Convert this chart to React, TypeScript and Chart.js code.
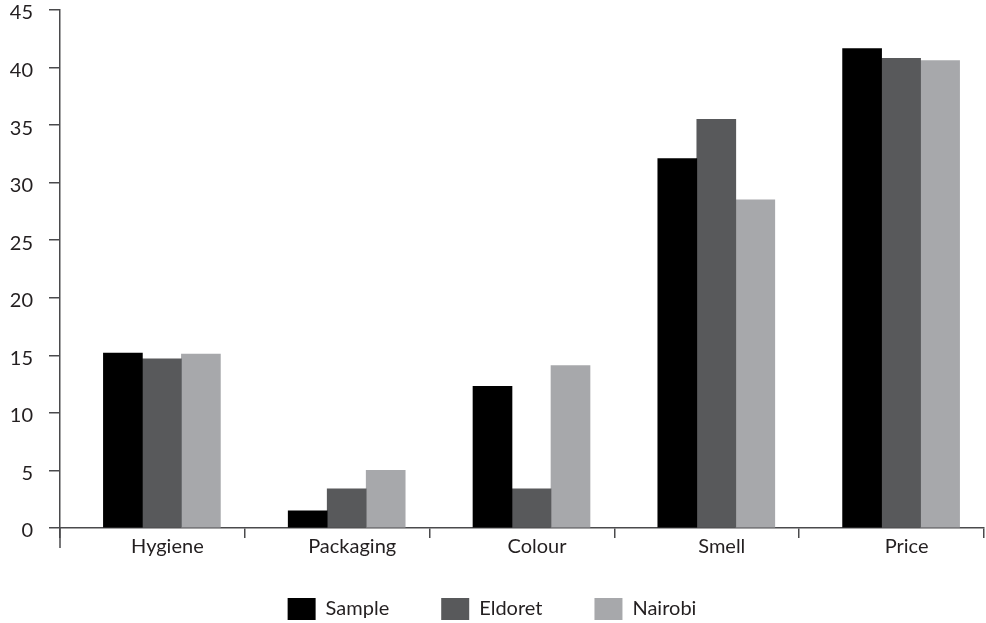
import { useEffect, useRef } from "react";
import { Chart, registerables } from "chart.js";

Chart.register(...registerables);

const categories = ["Hygiene", "Packaging", "Colour", "Smell", "Price"];
const seriesNames = ["Sample", "Eldoret", "Nairobi"];
const sampleValues = [15.2, 1.5, 12.3, 32.1, 41.65];
const eldoretValues = [14.7, 3.4, 3.4, 35.5, 40.8];
const nairobiValues = [15.1, 5.0, 14.1, 28.5, 40.6];
const yMin = 0;
const yMax = 45;
const yStep = 5;

const seriesColors = ["#000000", "#58595b", "#a7a8ab"];
const AXIS = "#4a4a4c";
const TEXT = "#231f20";
const FONT = "Lato, 'Open Sans', sans-serif";

const axisExtend = {
  id: "axisExtend",
  afterDraw(chart: any) {
    const { ctx, chartArea } = chart;
    ctx.save();
    ctx.strokeStyle = AXIS;
    ctx.lineWidth = 1.5;
    ctx.beginPath();
    ctx.moveTo(chartArea.left, chartArea.bottom);
    ctx.lineTo(chartArea.left, chartArea.bottom + 20);
    ctx.stroke();
    ctx.restore();
  },
};

export default function App() {
  const ref = useRef<HTMLCanvasElement | null>(null);

  useEffect(() => {
    if (!ref.current) return;
    const allSeries = [sampleValues, eldoretValues, nairobiValues];
    const chart = new Chart(ref.current, {
      type: "bar",
      data: {
        labels: categories,
        datasets: allSeries.map((vals, s) => ({
          label: seriesNames[s],
          data: vals.map((v, i) => ({ x: i, y: v })),
          backgroundColor: seriesColors[s],
          borderWidth: 0,
          barThickness: 39,
          xAxisID: "x",
        })),
      },
      options: {
        responsive: false,
        animation: false,
        layout: { padding: { top: 10, right: 2, left: 0, bottom: -7 } },
        plugins: {
          tooltip: { enabled: false },
          legend: {
            position: "bottom",
            labels: {
              boxWidth: 28,
              boxHeight: 22,
              padding: 52,
              color: TEXT,
              font: { family: FONT, size: 20 },
            },
          },
        },
        scales: {
          x: {
            type: "linear",
            display: true,
            position: "bottom",
            offset: false,
            min: -0.5514,
            max: 4.4486,
            grid: { display: false, drawTicks: false, offset: false },
            border: { display: false },
            ticks: { display: false },
            afterFit: (scale: any) => {
              scale.height = 0;
            },
          },
          xc: {
            type: "category",
            position: "bottom",
            offset: true,
            grid: {
              offset: true,
              drawOnChartArea: false,
              drawTicks: true,
              tickLength: 10,
              color: AXIS,
              lineWidth: 1.5,
            },
            border: { color: AXIS, width: 1.5 },
            ticks: {
              color: TEXT,
              font: { family: FONT, size: 20 },
              padding: -3,
              labelOffset: 15,
              maxRotation: 0,
              autoSkip: false,
            },
            afterFit: (scale: any) => {
              scale.height = 18;
              scale._computeLabelArea = () => undefined;
            },
          },
          y: {
            min: yMin,
            max: yMax,
            grid: {
              drawOnChartArea: false,
              drawTicks: true,
              tickLength: 11,
              color: AXIS,
              lineWidth: 1.5,
            },
            border: { color: AXIS, width: 1.5 },
            ticks: {
              stepSize: yStep,
              color: TEXT,
              font: { family: FONT, size: 20 },
              padding: 16,
              labelOffset: 3,
            },
            afterFit: (scale: any) => {
              scale.width = 60;
              scale.paddingTop = 0;
              scale.paddingBottom = 0;
            },
          },
        },
      },
      plugins: [axisExtend],
    });
    return () => chart.destroy();
  }, []);

  return (
    <div style={{ position: "absolute", left: 0, top: 0, width: 986, height: 623, background: "#fff" }}>
      <canvas ref={ref} width={986} height={623} />
    </div>
  );
}
